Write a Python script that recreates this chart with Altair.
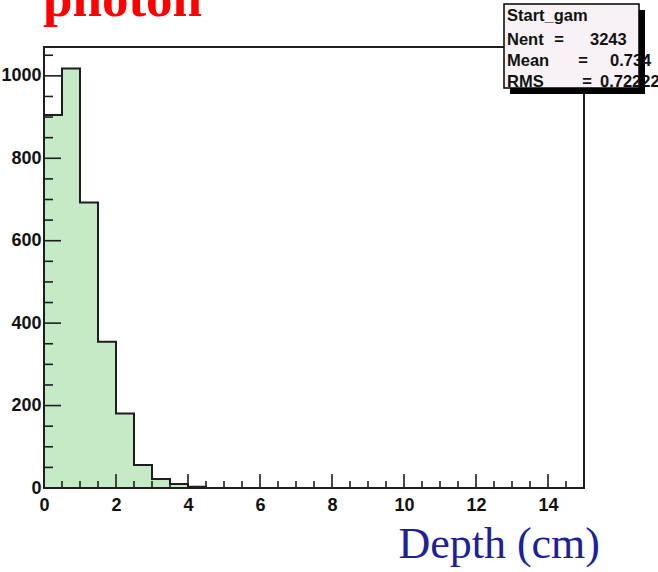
import altair as alt
import pandas as pd

# ---- data ----
counts = [905, 1018, 693, 355, 181, 56, 22, 10, 3] + [0] * 21   # entries per 0.5 cm bin
bin_width = 0.5
edges = [i * bin_width for i in range(len(counts) + 1)]          # 0 .. 15
x_major = [0, 2, 4, 6, 8, 10, 12, 14]
x_minor = [v / 2 for v in range(1, 30) if v % 4 != 0]
y_major = [0, 200, 400, 600, 800, 1000]
y_minor = [v for v in range(50, 1070, 50) if v % 200 != 0]

stat_name = "Start_gam"
stat_nent = "3243"
stat_mean = "0.734"
stat_rms = "0.72222"

W, H = 540, 441
hist = pd.DataFrame({"x": edges, "y": counts + [counts[-1]]})
one = pd.DataFrame({"k": [0]})

SANS = "Liberation Sans"
SERIF = "Liberation Serif"
DARK = "#1e1e1e"

xs = alt.Scale(domain=[0, 15], nice=False, zero=False)
ys = alt.Scale(domain=[0, 1070], nice=False)
xaxis = alt.Axis(values=x_major, ticks=False, domain=False, grid=False, title=None, format="d",
                 labelFont=SANS, labelFontSize=18, labelFontWeight="bold",
                 labelColor="#111", labelPadding=8, labelFlush=False, labelOverlap=False)
yaxis = alt.Axis(values=y_major, ticks=False, domain=False, grid=False, title=None, format="d",
                 labelFont=SANS, labelFontSize=18, labelFontWeight="bold",
                 labelColor="#111", labelPadding=3, labelOverlap=False)

X = alt.X("x:Q", scale=xs, axis=xaxis)
Y = alt.Y("y:Q", scale=ys, axis=yaxis)

area = alt.Chart(hist).mark_area(interpolate="step-after", color="#c5eac5").encode(x=X, y=Y)
line = alt.Chart(hist).mark_line(interpolate="step-after", color=DARK, strokeWidth=2).encode(x=X, y=Y)

xmaj = alt.Chart(pd.DataFrame({"x": x_major})).mark_rule(color=DARK, strokeWidth=1.6).encode(
    x=X, y=alt.value(H), y2=alt.value(H - 14))
xmin = alt.Chart(pd.DataFrame({"x": x_minor})).mark_rule(color=DARK, strokeWidth=1.6).encode(
    x=X, y=alt.value(H), y2=alt.value(H - 7))
ymaj = alt.Chart(pd.DataFrame({"y": y_major})).mark_rule(color=DARK, strokeWidth=1.6).encode(
    y=Y, x=alt.value(0), x2=alt.value(17))
ymin = alt.Chart(pd.DataFrame({"y": y_minor})).mark_rule(color=DARK, strokeWidth=1.6).encode(
    y=Y, x=alt.value(0), x2=alt.value(9))

frame = alt.Chart(one).mark_rect(fillOpacity=0, stroke=DARK, strokeWidth=2).encode(
    x=alt.value(0), x2=alt.value(W), y=alt.value(0), y2=alt.value(H))

shadow = alt.Chart(one).mark_rect(color="#000000").encode(
    x=alt.value(466), x2=alt.value(601), y=alt.value(-37), y2=alt.value(47))
box = alt.Chart(one).mark_rect(fill="#f8f2f6", stroke="#000000", strokeWidth=1.5).encode(
    x=alt.value(460), x2=alt.value(595), y=alt.value(-43), y2=alt.value(41))


def txt(s, x, y, size, font=SANS, weight="bold", color="#111", align="left"):
    return alt.Chart(one).mark_text(font=font, fontSize=size, fontWeight=weight, color=color,
                                    align=align, baseline="alphabetic").encode(
        x=alt.value(x), y=alt.value(y), text=alt.value(s))


S = 16.5
texts = [
    txt(stat_name, 463, -26.5, S),
    txt("Nent", 463, -2.5, S), txt("=", 559 - 44, -2.5, S, align="center"), txt(stat_nent, 546, -2.5, S),
    txt("Mean", 463, 18.5, S), txt("=", 583 - 44, 18.5, S, align="center"), txt(stat_mean, 566, 18.5, S),
    txt("RMS", 463, 40, S), txt("=", 587 - 44, 40, S, align="center"), txt(stat_rms, 556, 40, S),
    txt("photon", -1, -31, 53, font=SERIF, color="#ff0000"),
    txt("Depth (cm)", 556, 511, 44, font=SERIF, weight="normal", color="#1f1f96", align="right"),
]

chart = alt.layer(area, line, xmaj, xmin, ymaj, ymin, frame, shadow, box, *texts).properties(
    width=W, height=H,
    autosize=alt.AutoSizeParams(type="none"),
    padding={"left": 44, "top": 47, "right": 74, "bottom": 84},
).configure_view(stroke="transparent")

chart.save("out.html", embed_options={"renderer": "svg", "actions": False})
